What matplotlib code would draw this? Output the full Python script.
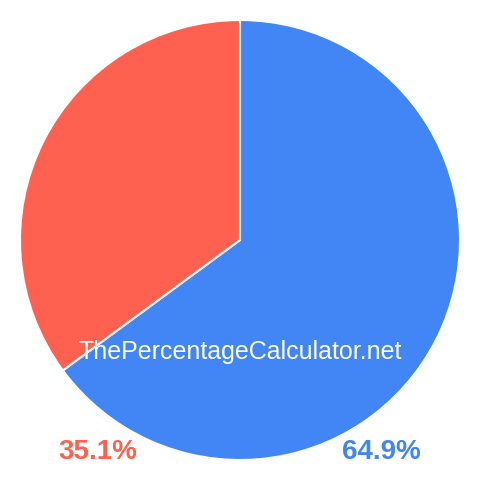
import matplotlib.pyplot as plt

# data
labels = ['64.9%', '35.1%']
values = [64.9, 35.1]
colors = ['#4285f4', '#ff6150']
watermark = 'ThePercentageCalculator.net'

plt.rcParams['font.family'] = ['Liberation Sans', 'DejaVu Sans']

fig = plt.figure(figsize=(4.8, 4.8), dpi=100)
ax = fig.add_axes([0, 0, 1, 1])
ax.set_xlim(0, 480)
ax.set_ylim(0, 480)
ax.set_aspect('equal')
ax.axis('off')

ax.pie(values, colors=colors, startangle=90, counterclock=False,
       center=(240, 240), radius=220, frame=True,
       wedgeprops=dict(edgecolor='white', linewidth=1.5))
ax.set_xlim(0, 480)
ax.set_ylim(0, 480)
ax.axis('off')

ax.text(240, 128, watermark, color='white', fontsize=18,
        ha='center', va='center')

# percentage labels under the pie
ax.text(381, 28, labels[0], color=colors[0], fontsize=20, fontweight='bold',
        ha='center', va='center')
ax.text(98, 28, labels[1], color=colors[1], fontsize=20, fontweight='bold',
        ha='center', va='center')

fig.savefig('out.png', dpi=100, facecolor='white')
